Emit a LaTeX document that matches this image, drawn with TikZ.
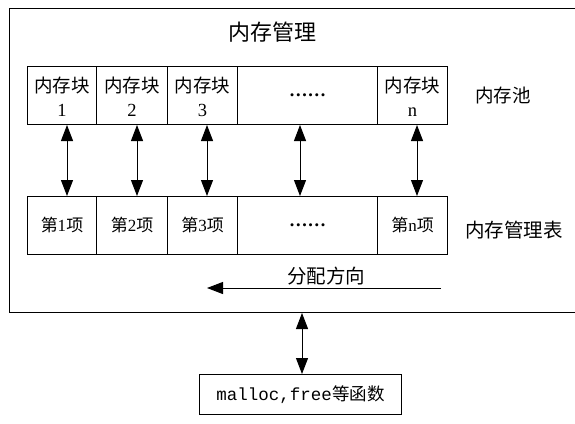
\documentclass[tikz,border=0pt]{standalone}
\usepackage{fontspec}
\setmainfont{Liberation Serif}
\newfontfamily\cjk{Noto Sans CJK SC}
\usetikzlibrary{arrows.meta}
\tikzset{
  cell/.style={draw, line width=1pt, inner sep=0pt, anchor=north west},
  dbl/.style={line width=1pt, {Triangle[width=12pt,length=16pt]}-{Triangle[width=12pt,length=16pt]}},
  lbl/.style={inner sep=0pt, font=\fontsize{18.5}{22}\selectfont},
}
\begin{document}
\begin{tikzpicture}[x=1pt,y=-1pt]
\useasboundingbox (0,0) rectangle (575,423);
\fill[white] (0,0) rectangle (575,423);
% outer frame
\node[cell, minimum width=568pt, minimum height=304pt] (frame) at (9,8) {};
\node[lbl, font=\fontsize{22}{26}\selectfont] (title) at (272,32) {\cjk 内存管理};
% pool row
\node[cell, minimum width=69pt, minimum height=58pt] (b1) at (27,66) {};
\node[cell, minimum width=71pt, minimum height=58pt] (b2) at (96,66) {};
\node[cell, minimum width=70pt, minimum height=58pt] (b3) at (167,66) {};
\node[cell, minimum width=140pt, minimum height=58pt] (bd) at (237,66) {};
\node[cell, minimum width=70pt, minimum height=58pt] (bn) at (377,66) {};
\foreach \n/\t in {b1/1, b2/2, b3/3, bn/n}{
  \node[lbl, align=center, font=\fontsize{18.5}{24}\selectfont] at ([yshift=-1pt]\n.center) {{\cjk 内存块}\\\t};
}
\node[lbl] (bdt) at (bd.center) {\textbf{\ldots\ldots}};
\node[lbl] (pool) at (503,95) {\cjk 内存池};
% table row
\node[cell, minimum width=69pt, minimum height=58pt] (t1) at (27,196) {};
\node[cell, minimum width=71pt, minimum height=58pt] (t2) at (96,196) {};
\node[cell, minimum width=70pt, minimum height=58pt] (t3) at (167,196) {};
\node[cell, minimum width=140pt, minimum height=58pt] (td) at (237,196) {};
\node[cell, minimum width=70pt, minimum height=58pt] (tn) at (377,196) {};
\foreach \n/\t in {t1/1, t2/2, t3/3, tn/n}{
  \node[lbl, font=\fontsize{17}{20}\selectfont] at (\n.center) {{\cjk 第}\t{\cjk 项}};
}
\node[lbl] (tdt) at (td.center) {\textbf{\ldots\ldots}};
\node[lbl, font=\fontsize{19.5}{23}\selectfont] (tbl) at (514,230) {\cjk 内存管理表};
% vertical arrows
\foreach \x/\b/\t in {67/b1/t1, 137/b2/t2, 207/b3/t3, 300/bd/td, 417/bn/tn}{
  \draw[dbl] (\b.south -| \x,0) -- (\t.north -| \x,0);
}
% allocation direction
\node[lbl, font=\fontsize{19.5}{23}\selectfont] (dir) at (326,276) {\cjk 分配方向};
\coordinate (ds) at (441,288);
\coordinate (de) at (207,288);
\draw[line width=1pt, -{Triangle[width=12pt,length=16pt]}] (ds) -- (de);
% function box
\node[cell, minimum width=202pt, minimum height=40pt] (fn) at (199,374) {};
\node[lbl, font=\fontsize{17.5}{20}\selectfont] at (fn.center) {\fontspec{Liberation Mono}malloc,free{\cjk 等函数}};
\draw[dbl] (frame.south -| 302,0) -- (fn.north -| 302,0);
\end{tikzpicture}
\end{document}
